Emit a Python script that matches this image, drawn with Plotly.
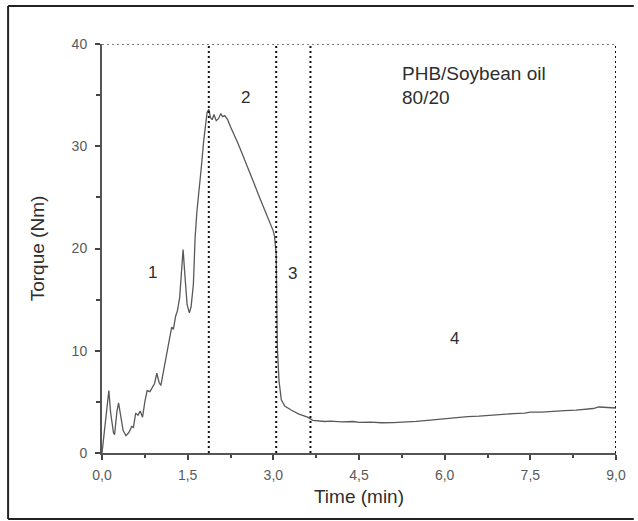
import plotly.graph_objects as go

# Torque curve of PHB/soybean oil 80/20 processing
time_min = [
    0.00, 0.05, 0.10, 0.12, 0.15, 0.20, 0.22, 0.26, 0.29, 0.33, 0.37, 0.42,
    0.47, 0.52, 0.55, 0.59, 0.63, 0.67, 0.71, 0.75, 0.79, 0.84, 0.88, 0.92,
    0.96, 1.00, 1.03, 1.07, 1.11, 1.15, 1.19, 1.22, 1.25, 1.29, 1.32, 1.36,
    1.39, 1.42, 1.45, 1.49, 1.53, 1.56, 1.60, 1.63, 1.66, 1.70, 1.74, 1.78,
    1.81, 1.84, 1.87, 1.90, 1.93, 1.96, 2.00, 2.04, 2.08, 2.11, 2.15, 2.20,
    2.25, 2.30, 2.38, 2.46, 2.55, 2.66, 2.75, 2.84, 2.92, 3.00, 3.02, 3.05,
    3.06, 3.07, 3.10, 3.14, 3.20, 3.31, 3.45, 3.60, 3.69, 3.80, 3.90, 4.00,
    4.20, 4.40, 4.50, 4.70, 4.90, 5.10, 5.30, 5.50, 5.70, 5.90, 6.00, 6.20,
    6.40, 6.60, 6.80, 7.00, 7.20, 7.40, 7.50, 7.70, 7.90, 8.10, 8.30, 8.50,
    8.60, 8.70, 8.80, 8.90, 9.00,
]
torque_nm = [
    0.0, 2.5, 5.5, 6.1, 4.0, 2.0, 1.8, 4.0, 4.9, 3.5, 2.2, 1.7,
    2.0, 2.6, 2.5, 3.9, 3.7, 4.1, 3.5, 5.0, 6.1, 6.0, 6.4, 6.8,
    7.8, 6.9, 6.6, 7.9, 8.8, 10.3, 11.4, 12.3, 12.1, 13.4, 13.9, 15.2,
    17.5, 19.9, 17.5, 14.5, 13.7, 14.3, 16.5, 21.0, 23.5, 25.6, 28.0, 30.5,
    32.0, 33.3, 33.6, 32.8, 32.6, 33.1, 32.5, 32.7, 33.2, 32.9, 33.0, 32.6,
    31.9, 31.3, 30.3, 29.2, 28.0, 26.4, 25.1, 23.9, 22.8, 21.7, 21.2, 19.5,
    15.0, 10.4, 7.0, 5.2, 4.6, 4.2, 3.8, 3.5, 3.2, 3.15, 3.08, 3.12,
    3.05, 3.08, 3.00, 3.02, 2.96, 2.98, 3.02, 3.10, 3.20, 3.30, 3.40, 3.45,
    3.55, 3.60, 3.70, 3.75, 3.85, 3.90, 4.00, 4.00, 4.10, 4.15, 4.20, 4.30,
    4.35, 4.50, 4.45, 4.40, 4.40,
]

# Boundaries between processing stages (min)
stage_bounds = [1.87, 3.05, 3.65]
stage_labels = ["1", "2", "3", "4"]
stage_label_x = [0.88, 2.51, 3.34, 6.18]
stage_label_y = [17.7, 34.8, 17.6, 11.2]

x_tickvals = [0.0, 1.5, 3.0, 4.5, 6.0, 7.5, 9.0]
x_ticktext = ["0,0", "1,5", "3,0", "4,5", "6,0", "7,5", "9,0"]
y_tickvals = [0, 10, 20, 30, 40]
y_ticktext = ["0", "10", "20", "30", "40"]

FONT = "Liberation Sans, Arial, sans-serif"
TEXT_DARK = "#2e2e2e"
TICK_GREY = "#5a5a5a"

fig = go.Figure()
fig.add_trace(go.Scatter(
    x=time_min, y=torque_nm, mode="lines",
    line=dict(color="#595959", width=1.3),
    hoverinfo="skip", showlegend=False,
))

dot = dict(color="#111111", width=2, dash="2px,3px")
dot_light = dict(color="#555555", width=1.6, dash="2px,3px")
shapes = []
for xb in stage_bounds:
    shapes.append(dict(type="line", xref="x", yref="y", x0=xb, x1=xb, y0=0, y1=40, line=dot))
# dotted top and right frame of the plotting area
shapes.append(dict(type="line", xref="x", yref="y", x0=0, x1=9, y0=40, y1=40, line=dot_light))
shapes.append(dict(type="line", xref="x", yref="y", x0=9, x1=9, y0=0, y1=40, line=dot))
# outer figure border (left, top, bottom)
pw, ph = 520, 409
left_px, top_px = 102, 44
def px_x(p):
    return (p - left_px) / pw
def px_y(p):
    return (top_px + ph - p) / ph
border = dict(color="#222222", width=2)
shapes.append(dict(type="line", xref="paper", yref="paper", x0=px_x(7), x1=px_x(640), y0=px_y(6), y1=px_y(6), line=border))
shapes.append(dict(type="line", xref="paper", yref="paper", x0=px_x(7), x1=px_x(7), y0=px_y(6), y1=px_y(519), line=border))
shapes.append(dict(type="line", xref="paper", yref="paper", x0=px_x(7), x1=px_x(640), y0=px_y(519), y1=px_y(519), line=border))

annotations = []
for lab, lx, ly in zip(stage_labels, stage_label_x, stage_label_y):
    annotations.append(dict(x=lx, y=ly, xref="x", yref="y", text=lab, showarrow=False,
                            font=dict(family=FONT, size=17, color=TEXT_DARK)))
annotations.append(dict(x=5.21, y=37.1, xref="x", yref="y", text="PHB/Soybean oil",
                        showarrow=False, xanchor="left",
                        font=dict(family=FONT, size=19, color=TEXT_DARK)))
annotations.append(dict(x=5.21, y=34.8, xref="x", yref="y", text="80/20",
                        showarrow=False, xanchor="left",
                        font=dict(family=FONT, size=19, color=TEXT_DARK)))

fig.update_layout(
    width=638, height=521,
    margin=dict(l=left_px, r=638 - left_px - pw, t=top_px, b=521 - top_px - ph),
    paper_bgcolor="white", plot_bgcolor="white",
    shapes=shapes, annotations=annotations,
    font=dict(family=FONT),
)
fig.update_xaxes(
    range=[0, 9], tickvals=x_tickvals, ticktext=x_ticktext,
    showgrid=False, zeroline=False, showline=True, linecolor="#555555", linewidth=2,
    ticks="outside", ticklen=5, tickwidth=1.5, tickcolor="#444444",
    minor=dict(ticks="outside", ticklen=3, dtick=0.75, tickcolor="#444444"),
    tickfont=dict(family=FONT, size=14, color=TICK_GREY), ticklabelstandoff=3,
    title=dict(text="Time (min)", font=dict(family=FONT, size=19, color=TEXT_DARK), standoff=8),
)
fig.update_yaxes(
    range=[0, 40], tickvals=y_tickvals, ticktext=y_ticktext,
    showgrid=False, zeroline=False, showline=True, linecolor="#555555", linewidth=2,
    ticks="outside", ticklen=5, tickwidth=1.5, tickcolor="#444444",
    minor=dict(ticks="outside", ticklen=4, dtick=5, tickcolor="#444444"),
    tickfont=dict(family=FONT, size=14, color=TICK_GREY), ticklabelstandoff=5,
    title=dict(text="Torque (Nm)", font=dict(family=FONT, size=19, color=TEXT_DARK), standoff=22),
)

fig.write_html("out.html")
